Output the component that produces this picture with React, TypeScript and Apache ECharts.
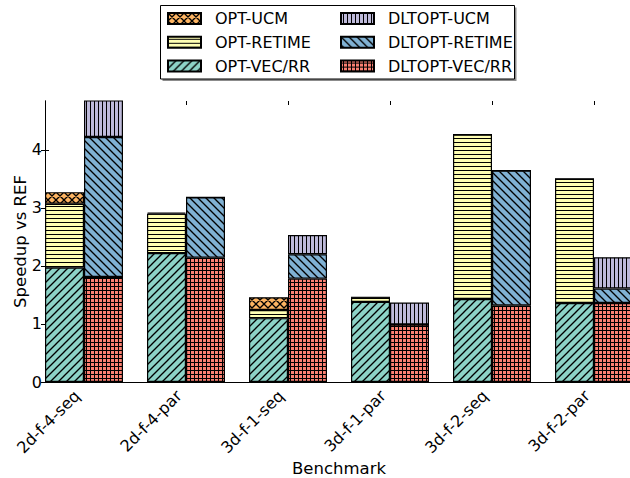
import React, { useEffect, useRef } from "react";
import * as echarts from "echarts";

// Benchmarks on the x axis
const benchmarks = ["2d-f-4-seq", "2d-f-4-par", "3d-f-1-seq", "3d-f-1-par", "3d-f-2-seq", "3d-f-2-par"];

// OPT stack (bottom to top)
const optVecRR = [1.97, 2.22, 1.1, 1.38, 1.43, 1.36];
const optRetime = [1.1, 0.68, 0.14, 0.08, 2.83, 2.14];
const optUcm = [0.2, 0.02, 0.22, 0, 0, 0];

// DLTOPT stack (bottom to top)
const dltVecRR = [1.81, 2.14, 1.78, 0.99, 1.32, 1.36];
const dltRetime = [2.41, 1.04, 0.42, 0, 2.32, 0.25];
const dltUcm = [0.8, 0, 0.33, 0.38, 0, 0.54];

const yTicks = [0, 1, 2, 3, 4];
const yMax = 4.84;

const FONT = "DejaVu Sans";

// Build a tiled hatch fill (matplotlib-style hatching) as an image pattern.
function hatch(bg: string, kind: string, size: number) {
  const c = document.createElement("canvas");
  c.width = size;
  c.height = size;
  const g = c.getContext("2d")!;
  g.fillStyle = bg;
  g.fillRect(0, 0, size, size);
  g.strokeStyle = "#000";
  g.lineWidth = kind === "-" || kind === "|" || kind === "+" ? 1 : 1.35;
  g.beginPath();
  const s = size;
  if (kind === "/" || kind === "x") {
    g.moveTo(-1, s + 1);
    g.lineTo(s + 1, -1);
    g.moveTo(-2, 2);
    g.lineTo(2, -2);
    g.moveTo(s - 2, s + 2);
    g.lineTo(s + 2, s - 2);
  }
  if (kind === "\\" || kind === "x") {
    g.moveTo(-1, -1);
    g.lineTo(s + 1, s + 1);
    g.moveTo(s - 2, -2);
    g.lineTo(s + 2, 2);
    g.moveTo(-2, s - 2);
    g.lineTo(2, s + 2);
  }
  if (kind === "-" || kind === "+") {
    g.moveTo(0, s / 2 + 0.5);
    g.lineTo(s, s / 2 + 0.5);
  }
  if (kind === "|" || kind === "+") {
    g.moveTo(s / 2 + 0.5, 0);
    g.lineTo(s / 2 + 0.5, s);
  }
  g.stroke();
  return { image: c.toDataURL(), repeat: "repeat", imageWidth: s, imageHeight: s };
}

export default function App() {
  const ref = useRef<HTMLDivElement>(null);

  useEffect(() => {
    if (!ref.current) return;
    const chart = echarts.init(ref.current, undefined, { renderer: "svg" });

    const fills = {
      optVec: hatch("#8dd3c7", "/", 8),
      optRet: hatch("#ffffb3", "-", 4),
      optUcm: hatch("#fdb462", "x", 8),
      dltVec: hatch("#fb8072", "+", 4),
      dltRet: hatch("#80b1d3", "\\", 8),
      dltUcm: hatch("#bebada", "|", 4),
    };

    const bar = (name: string, data: number[], stack: string, fill: any) => ({
      name,
      type: "bar",
      stack,
      xAxisIndex: 0,
      yAxisIndex: 0,
      barWidth: 39,
      barGap: "0%",
      data,
      itemStyle: { color: fill, borderColor: "#000", borderWidth: 1.2 },
      emphasis: { disabled: true },
      clip: true,
    });

    const legendBase = {
      orient: "vertical",
      top: 10.5,
      padding: 0,
      itemWidth: 33,
      itemHeight: 11,
      itemGap: 7.8,
      icon: "rect",
      selectedMode: false,
      textStyle: { fontFamily: FONT, fontSize: 16, color: "#000", lineHeight: 16, padding: [0, 0, 0, 9] },
    };

    const tickStyle = { color: "#000", width: 1 };

    chart.setOption({
      animation: false,
      textStyle: { fontFamily: FONT },
      graphic: [
        { type: "rect", z: 0, shape: { x: 162.5, y: 7.5, width: 354, height: 73.5 }, style: { fill: "rgba(0,0,0,0.45)" } },
        { type: "rect", z: 1, shape: { x: 160.5, y: 5.5, width: 354, height: 73.5 }, style: { fill: "#fff", stroke: "#000", lineWidth: 1 } },
      ],
      legend: [
        { ...legendBase, left: 167, data: ["OPT-UCM", "OPT-RETIME", "OPT-VEC/RR"] },
        { ...legendBase, left: 340, data: ["DLTOPT-UCM", "DLTOPT-RETIME", "DLTOPT-VEC/RR"] },
      ],
      grid: [
        // bar area: category bands 102px wide
        { left: 33, right: -15, top: 101, bottom: 96, outerBoundsMode: "none", containLabel: false },
        // frame of the plot
        { left: 45, right: -2, top: 101, bottom: 96, outerBoundsMode: "none", containLabel: false },
      ],
      xAxis: [
        {
          type: "category",
          gridIndex: 0,
          position: "bottom",
          data: benchmarks,
          axisLine: { show: false },
          axisTick: { show: true, inside: true, length: 4, alignWithLabel: true, lineStyle: tickStyle },
          axisLabel: {
            rotate: 45,
            margin: 4,
            padding: [0, 10, 0, 0],
            fontFamily: FONT,
            fontSize: 16,
            color: "#000",
            interval: 0,
          },
          name: "Benchmark",
          nameLocation: "middle",
          nameGap: 78,
          nameMoveOverlap: false,
          nameTextStyle: { fontFamily: FONT, fontSize: 16.5, color: "#000", verticalAlign: "top" },
        },
        {
          type: "category",
          gridIndex: 0,
          position: "top",
          data: benchmarks,
          axisLine: { show: false },
          axisTick: { show: true, inside: true, length: 4, alignWithLabel: true, lineStyle: tickStyle },
          axisLabel: { show: false },
        },
        {
          type: "value",
          gridIndex: 1,
          position: "bottom",
          min: 0,
          max: 1,
          axisLine: { show: true, lineStyle: { color: "#000", width: 1 } },
          axisTick: { show: false },
          axisLabel: { show: false },
          splitLine: { show: false },
        },
        {
          type: "value",
          gridIndex: 1,
          position: "top",
          min: 0,
          max: 1,
          axisLine: { show: true, lineStyle: { color: "#000", width: 1 } },
          axisTick: { show: false },
          axisLabel: { show: false },
          splitLine: { show: false },
        },
      ],
      yAxis: [
        { type: "value", gridIndex: 0, min: 0, max: yMax, show: false },
        {
          type: "value",
          gridIndex: 1,
          position: "left",
          min: yTicks[0],
          max: yMax,
          interval: 1,
          axisLine: { show: true, lineStyle: { color: "#000", width: 1 } },
          axisTick: { show: true, inside: true, length: 4, lineStyle: tickStyle, customValues: yTicks },
          axisLabel: {
            margin: 3,
            fontFamily: FONT,
            fontSize: 16,
            color: "#000",
            customValues: yTicks,
          },
          splitLine: { show: false },
          name: "Speedup vs REF",
          nameLocation: "middle",
          nameGap: 16,
          nameMoveOverlap: false,
          nameTextStyle: { fontFamily: FONT, fontSize: 16.5, color: "#000" },
        },
        {
          type: "value",
          gridIndex: 1,
          position: "right",
          min: yTicks[0],
          max: yMax,
          interval: 1,
          axisLine: { show: true, lineStyle: { color: "#000", width: 1 } },
          axisTick: { show: true, inside: true, length: 4, lineStyle: tickStyle, customValues: yTicks },
          axisLabel: { show: false },
          splitLine: { show: false },
        },
      ],
      series: [
        bar("OPT-VEC/RR", optVecRR, "opt", fills.optVec),
        bar("OPT-RETIME", optRetime, "opt", fills.optRet),
        bar("OPT-UCM", optUcm, "opt", fills.optUcm),
        bar("DLTOPT-VEC/RR", dltVecRR, "dlt", fills.dltVec),
        bar("DLTOPT-RETIME", dltRetime, "dlt", fills.dltRet),
        bar("DLTOPT-UCM", dltUcm, "dlt", fills.dltUcm),
      ],
    });

    return () => chart.dispose();
  }, []);

  return (
    <div
      ref={ref}
      style={{ position: "fixed", left: 0, top: 0, width: 630, height: 478, background: "#fff" }}
    />
  );
}
